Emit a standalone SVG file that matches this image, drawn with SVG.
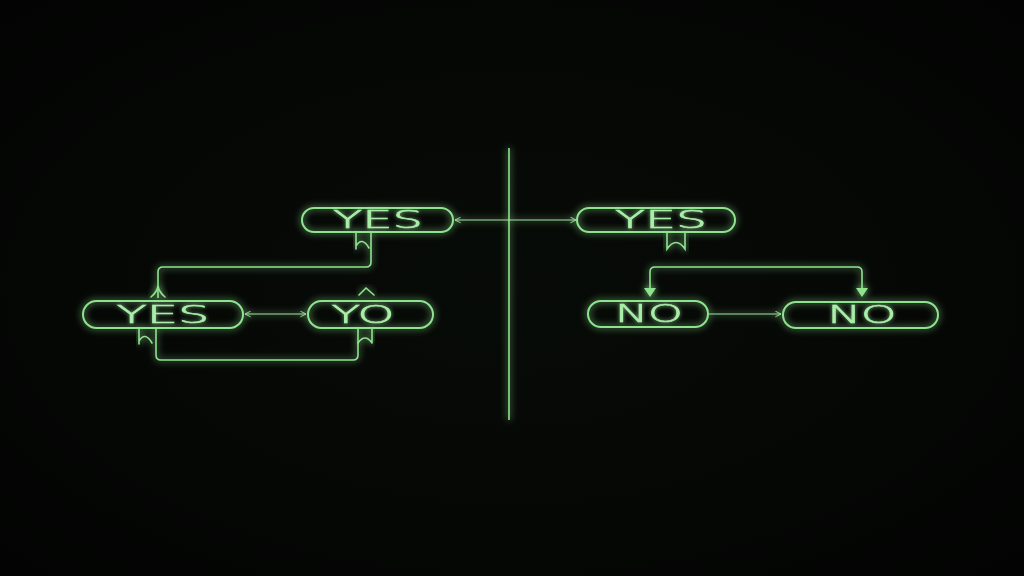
<svg xmlns="http://www.w3.org/2000/svg" width="1024" height="576" viewBox="0 0 1024 576">
  <defs>
    <radialGradient id="bg" cx="50%" cy="50%" r="70%">
      <stop offset="0" stop-color="#070b07"/>
      <stop offset="0.6" stop-color="#050705"/>
      <stop offset="1" stop-color="#020302"/>
    </radialGradient>
    <filter id="glow" x="-20%" y="-50%" width="140%" height="200%">
      <feGaussianBlur in="SourceGraphic" stdDeviation="3.5" result="b"/>
      <feMerge>
        <feMergeNode in="b"/>
        <feMergeNode in="SourceGraphic"/>
      </feMerge>
    </filter>
    <filter id="tglow" x="-20%" y="-50%" width="140%" height="200%">
      <feGaussianBlur in="SourceGraphic" stdDeviation="2" result="b"/>
      <feComponentTransfer in="b" result="c"><feFuncA type="linear" slope="0.7"/></feComponentTransfer>
      <feMerge>
        <feMergeNode in="c"/>
        <feMergeNode in="SourceGraphic"/>
      </feMerge>
    </filter>
    <marker id="open" viewBox="0 0 10 10" refX="9" refY="5" markerWidth="7" markerHeight="7" orient="auto-start-reverse" markerUnits="userSpaceOnUse">
      <path d="M1 1 L9 5 L1 9" fill="none" stroke="#9fe89f" stroke-width="1.3"/>
    </marker>
    <style>
      .node rect { fill: none; stroke: #8fe38f; stroke-width: 2; }
      .node text { font-family: "DejaVu Sans", "Liberation Sans", sans-serif; font-weight: 200; font-size: 24.5px; fill: #a8eea8; stroke: #a8eea8; stroke-width: 0.6; text-anchor: middle; filter: url(#tglow); }
      .deco { fill: none; stroke: #8fe38f; stroke-width: 1.6; stroke-linecap: round; }
      .conn { fill: none; stroke: #8fe38f; stroke-width: 1.6; }
      .thin { fill: none; stroke: #9fe89f; stroke-width: 1.1; }
      .tri { fill: #8fe38f; }
    </style>
  </defs>
  <rect width="1024" height="576" fill="url(#bg)"/>

  <g id="connectors" filter="url(#glow)">
    <line class="conn" x1="509" y1="148" x2="509" y2="420"/>
    <line class="thin" x1="455" y1="220" x2="576" y2="220" marker-start="url(#open)" marker-end="url(#open)"/>
    <line class="thin" x1="245" y1="314" x2="306" y2="314" marker-start="url(#open)" marker-end="url(#open)"/>
    <line class="thin" x1="709" y1="314" x2="781" y2="314" marker-end="url(#open)"/>
    <path class="conn" d="M371 232 V262 Q371 267 366 267 H163 Q158 267 158 272 V298"/>
    <path class="conn" d="M156 328 V355 Q156 360 161 360 H353 Q358 360 358 355 V328"/>
    <path class="conn" d="M650 289 V272 Q650 267 655 267 H857 Q862 267 862 272 V289"/>
    <path class="tri" d="M644 288 L656 288 L650 297 Z"/>
    <path class="tri" d="M856 288 L868 288 L862 297 Z"/>
  </g>

  <g id="node-yes-top" class="node">
    <rect x="302" y="208" width="151" height="24" rx="12" filter="url(#glow)"/>
    <text x="378" y="228" textLength="90" lengthAdjust="spacingAndGlyphs">YES</text>
    <path class="deco" d="M356 232 V249 M356 246 Q362 236 369 248" filter="url(#glow)"/>
  </g>

  <g id="node-yes-left" class="node">
    <rect x="83" y="301" width="160" height="27" rx="13.5" filter="url(#glow)"/>
    <text x="163" y="323" textLength="93" lengthAdjust="spacingAndGlyphs">YES</text>
    <path class="deco" d="M151 297 Q157 292 158 286 Q159 292 165 297" filter="url(#glow)"/>
    <path class="deco" d="M139 328 V344 M139 341 Q145 331 152 343" filter="url(#glow)"/>
  </g>

  <g id="node-yo" class="node">
    <rect x="308" y="301" width="125" height="27" rx="13.5" filter="url(#glow)"/>
    <text x="363" y="323" textLength="63" lengthAdjust="spacingAndGlyphs">YO</text>
    <path class="deco" d="M359 295 L366 288 L374 295" filter="url(#glow)"/>
    <path class="deco" d="M358 343 Q365 333 372 343 M372 328 V343" filter="url(#glow)"/>
  </g>

  <g id="node-yes-right" class="node">
    <rect x="577" y="208" width="158" height="24" rx="12" filter="url(#glow)"/>
    <text x="661" y="228" textLength="92" lengthAdjust="spacingAndGlyphs">YES</text>
    <path class="deco" d="M667 232 V249 Q676 236 685 249 V232" filter="url(#glow)"/>
  </g>

  <g id="node-no-left" class="node">
    <rect x="588" y="301" width="120" height="26" rx="13" filter="url(#glow)"/>
    <text x="649" y="322" textLength="68" lengthAdjust="spacingAndGlyphs">NO</text>
  </g>

  <g id="node-no-right" class="node">
    <rect x="783" y="302" width="155" height="26" rx="13" filter="url(#glow)"/>
    <text x="862" y="323" textLength="69" lengthAdjust="spacingAndGlyphs">NO</text>
  </g>
</svg>
